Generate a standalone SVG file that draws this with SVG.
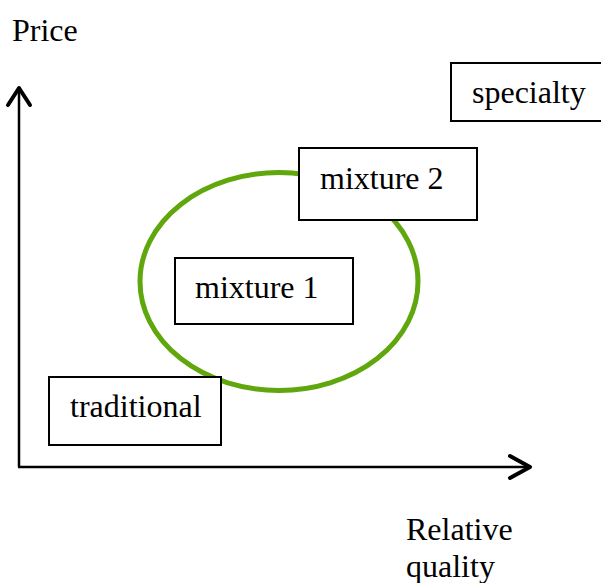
<svg xmlns="http://www.w3.org/2000/svg" width="601" height="583" viewBox="0 0 601 583">
  <style>
    .lbl { font-family: "Liberation Serif", "Times New Roman", serif; font-size: 32px; fill: #000; }
    .box { fill: #fff; stroke: #000; stroke-width: 2; }
    .axis { fill: none; stroke: #000; stroke-width: 2.5; }
    .head { fill: none; stroke: #000; stroke-width: 4; stroke-linecap: round; stroke-linejoin: round; }
  </style>
  <rect width="601" height="583" fill="#fff"/>

  <!-- axes -->
  <g id="axes">
    <line class="axis" x1="19" y1="89" x2="19" y2="467"/>
    <line class="axis" x1="18" y1="467" x2="529" y2="467"/>
    <polyline class="head" points="8,105 19,88 30,105"/>
    <polyline class="head" points="510,456 530,467 510,478"/>
    <text class="lbl" x="12" y="41">Price</text>
    <text class="lbl" x="406" y="540">Relative</text>
    <text class="lbl" x="406" y="577">quality</text>
  </g>

  <!-- mixture region -->
  <g id="region">
    <ellipse cx="279" cy="281.5" rx="139" ry="109" fill="none" stroke="#5fa70c" stroke-width="5"/>
  </g>

  <g id="specialty">
    <rect class="box" x="451" y="63" width="152" height="58"/>
    <text class="lbl" x="472" y="103">specialty</text>
  </g>

  <g id="mixture2">
    <rect class="box" x="299" y="148" width="178" height="72"/>
    <text class="lbl" x="320" y="189">mixture 2</text>
  </g>

  <g id="mixture1">
    <rect class="box" x="175" y="258" width="178" height="66"/>
    <text class="lbl" x="195" y="298">mixture 1</text>
  </g>

  <g id="traditional">
    <rect class="box" x="49" y="377" width="172" height="68"/>
    <text class="lbl" x="70" y="417">traditional</text>
  </g>
</svg>
